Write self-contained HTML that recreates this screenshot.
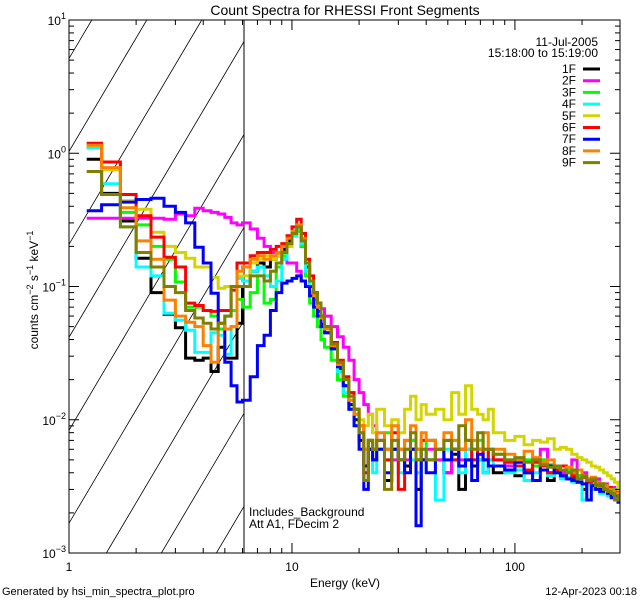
<!DOCTYPE html>
<html><head><meta charset="utf-8">
<style>
html,body{margin:0;padding:0;background:#fff;}
svg{display:block;font-family:"Liberation Sans",sans-serif;}
</style></head>
<body>
<svg id="chart" width="640" height="600" viewBox="0 0 640 600">
<defs><clipPath id="plotclip"><rect x="69" y="20" width="551" height="533"/></clipPath>
<clipPath id="hatchclip"><rect x="69" y="20" width="175" height="533"/></clipPath></defs>
<rect x="0" y="0" width="640" height="600" fill="#fff"/>
<text x="345" y="15" font-size="14" text-anchor="middle">Count Spectra for RHESSI Front Segments</text>
<g id="hatch" clip-path="url(#hatchclip)"></g>
<line x1="244" y1="20" x2="244" y2="553" stroke="#000" stroke-width="1"/>
<g id="series" clip-path="url(#plotclip)"></g>
<rect x="69" y="20" width="551" height="533" fill="none" stroke="#000" stroke-width="1"/>
<g id="axes"></g>
<text x="598" y="46" font-size="12" text-anchor="end">11-Jul-2005</text>
<text x="598" y="57" font-size="12" text-anchor="end">15:18:00 to 15:19:00</text>
<g id="legend"></g>
<text x="249" y="516" font-size="12">Includes_Background</text>
<text x="249" y="528" font-size="12">Att A1, FDecim 2</text>
<text x="345" y="587" font-size="12" text-anchor="middle">Energy (keV)</text>
<text transform="translate(38,290) rotate(-90)" font-size="12" text-anchor="middle">counts cm<tspan dy="-5" font-size="9">−2</tspan><tspan dy="5"> s</tspan><tspan dy="-5" font-size="9">−1</tspan><tspan dy="5"> keV</tspan><tspan dy="-5" font-size="9">−1</tspan></text>
<text x="2" y="595" font-size="11">Generated by hsi_min_spectra_plot.pro</text>
<text x="637" y="595" font-size="11" text-anchor="end">12-Apr-2023 00:18</text>
</svg>
<script>
const edges=[1.2,1.4,1.7,2.0,2.333,2.667,3,3.333,3.667,4,4.333,4.667,5,5.333,5.667,6,
6.5,7,7.5,8,8.5,9,9.5,10,10.5,11,11.5,12,12.5,13,13.5,14,
15,16,17,18,19,20,21,22,23,24,
26,28,30,32,34,36,38,40,
44,48,52,56,60,64,68,72,76,80,
90,100,110,120,130,140,150,160,170,180,190,200,210,220,230,240,250,260,270,280,290,300];
const labels=["1F","2F","3F","4F","5F","6F","7F","8F","9F"];
const colors=["#000000","#ff00ff","#00ff00","#00ffff","#d4d400","#ff0000","#0000ff","#ff8000","#808000"];
const s1F=[.90,.50,.31,.163,.090,.062,.049,.029,.028,.029,.023,.035,.029,.029,.053,
.10,.13,.15,.14,.16,.17,.19,.22,.25,.27,.20,.14,.10,.08,.065,.052,
.045,.034,.024,.018,.013,.01,.007,.0045,.006,.005,
.006,.0035,.006,.005,.0045,.006,.003,.005,
.005,.006,.004,.0055,.003,.005,.0045,.005,.004,.0045,
.004,.0045,.0038,.004,.0045,.0042,.0035,.004,.0038,.0036,.0037,.0035,.003,.0034,.0032,.0034,.003,.0031,.0028,.003,.0029,.0026];
const s2F=[.325,.325,.325,.325,.325,.32,.35,.34,.386,.37,.36,.35,.33,.30,.29,
.30,.27,.23,.20,.18,.17,.16,.15,.15,.13,.11,.10,.09,.08,.075,.068,
.06,.05,.042,.035,.028,.02,.016,.013,.011,.009,
.007,.006,.005,.006,.005,.007,.006,.005,
.006,.005,.004,.006,.005,.006,.005,.006,.005,.005,
.005,.0045,.005,.004,.0045,.006,.004,.0045,.004,.0042,.005,.0038,.004,.0035,.0034,.0036,.0032,.0033,.003,.0031,.003,.0028];
const s3F=[1.1,.77,.36,.29,.20,.16,.108,.07,.07,.066,.06,.048,.06,.066,.08,
.07,.09,.12,.075,.08,.14,.17,.20,.24,.26,.2,.12,.075,.06,.05,.04,
.035,.028,.02,.015,.012,.011,.008,.006,.007,.006,
.006,.008,.006,.005,.006,.007,.005,.006,
.007,.006,.005,.007,.006,.006,.006,.007,.006,.005,
.0055,.005,.0048,.005,.0045,.005,.0046,.0044,.0042,.0042,.004,.0038,.0037,.0036,.0034,.0034,.0033,.0032,.003,.003,.0028,.0025];
const s4F=[1.1,.59,.28,.14,.12,.063,.056,.047,.032,.032,.045,.043,.031,.05,.115,
.11,.13,.14,.12,.10,.11,.16,.2,.24,.27,.21,.13,.09,.075,.06,.05,
.045,.034,.023,.016,.012,.009,.008,.006,.007,.004,
.006,.005,.007,.004,.006,.005,.004,.006,
.005,.0025,.006,.005,.004,.006,.005,.005,.004,.005,
.0045,.004,.0042,.0035,.004,.0042,.0038,.004,.0036,.0037,.0034,.0035,.0025,.0033,.003,.0032,.0028,.003,.0027,.0028,.0026,.0025];
const s5F=[1.15,.75,.44,.38,.255,.20,.18,.163,.14,.14,.117,.097,.10,.10,.12,
.12,.15,.16,.17,.16,.17,.18,.2,.25,.28,.22,.15,.11,.085,.07,.06,
.05,.036,.027,.02,.016,.012,.01,.009,.011,.008,
.012,.009,.01,.008,.012,.015,.01,.013,
.011,.012,.01,.016,.011,.018,.012,.011,.01,.012,
.008,.007,.0075,.0065,.007,.0068,.0072,.006,.0062,.006,.0055,.0052,.005,.0048,.0045,.0044,.0042,.004,.0038,.0036,.0034,.003];
const s6F=[1.19,.86,.49,.34,.235,.166,.14,.075,.072,.066,.065,.066,.066,.094,.15,
.15,.17,.18,.18,.19,.2,.21,.24,.28,.32,.25,.16,.12,.09,.075,.06,
.05,.038,.028,.021,.016,.012,.009,.004,.007,.006,
.007,.005,.008,.003,.007,.006,.005,.007,
.007,.006,.007,.005,.006,.007,.005,.006,.005,.006,
.005,.0048,.0045,.0042,.0048,.0045,.004,.0042,.0045,.004,.0038,.0036,.0037,.0034,.0035,.0033,.0032,.003,.0031,.0029,.0027,.0026];
const s7F=[.37,.41,.43,.45,.46,.40,.36,.30,.197,.15,.089,.053,.027,.018,.0136,
.014,.021,.036,.043,.066,.09,.106,.11,.115,.12,.11,.1,.085,.07,.06,.05,
.045,.034,.025,.018,.012,.009,.006,.003,.006,.005,
.006,.004,.006,.005,.004,.006,.0016,.005,
.004,.006,.005,.006,.0045,.005,.0035,.0055,.005,.0045,
.0045,.0042,.0048,.004,.0035,.0042,.0045,.004,.0038,.0036,.0035,.0034,.0033,.0025,.0032,.003,.0029,.003,.0028,.0026,.0027,.0024];
const s8F=[1.15,.78,.39,.22,.16,.079,.06,.054,.05,.036,.027,.053,.048,.05,.13,
.14,.16,.17,.16,.17,.18,.2,.23,.26,.29,.23,.15,.11,.085,.07,.058,
.048,.036,.026,.02,.014,.011,.009,.006,.007,.006,
.008,.006,.009,.006,.007,.009,.006,.008,
.007,.006,.008,.007,.006,.01,.007,.006,.008,.006,
.006,.0055,.005,.0058,.0052,.0048,.005,.0045,.0042,.0044,.004,.0042,.0038,.0036,.0037,.0034,.0033,.0032,.003,.0029,.0028,.0026];
const s9F=[.73,.49,.28,.18,.14,.10,.09,.066,.058,.053,.048,.053,.06,.10,.10,
.10,.12,.12,.11,.13,.15,.18,.21,.25,.28,.22,.15,.11,.09,.075,.06,
.05,.037,.027,.02,.015,.012,.008,.0035,.007,.006,
.007,.003,.007,.005,.006,.008,.005,.006,
.005,.006,.007,.006,.009,.007,.006,.008,.006,.006,
.0055,.005,.0052,.0048,.005,.0046,.0044,.0045,.0042,.004,.0042,.0036,.0038,.0035,.0036,.0032,.0033,.003,.0029,.0028,.0025,.0027];
const seriesData=[s1F,s2F,s3F,s4F,s5F,s6F,s7F,s8F,s9F];
const xTickMajor=[1,10,100];
const yTickExp=[-3,-2,-1,0,1];

const NS="http://www.w3.org/2000/svg";
const L=69,R=620,T=20,B=553;
const xmin=Math.log10(1),xmax=Math.log10(296),ymin=-3,ymax=1;
function X(e){return L+(Math.log10(e)-xmin)/(xmax-xmin)*(R-L);}
function Y(v){return B-(Math.log10(v)-ymin)/(ymax-ymin)*(B-T);}
function mk(tag,attrs,parent){const el=document.createElementNS(NS,tag);for(const k in attrs)el.setAttribute(k,attrs[k]);parent.appendChild(el);return el;}

// hatch
const hatch=document.getElementById('hatch');
for(let k=-6;k<8;k++){
  const x0=136+k*55,y0=410;
  const slope=1.69;
  const el=mk('line',{x1:x0-(B-y0)/slope,y1:B,x2:x0+(y0-T)/slope,y2:T,stroke:'#000','stroke-width':0.8},hatch);
  
  
}

// series
const sg=document.getElementById('series');
seriesData.forEach((vals,si)=>{
  let d='';
  for(let i=0;i<vals.length;i++){
    const x1=X(edges[i]).toFixed(1),x2=X(edges[i+1]).toFixed(1),y=Y(vals[i]).toFixed(1);
    d+=(i===0?'M':'L')+x1+','+y+'L'+x2+','+y;
  }
  const p=mk('path',{d:d,fill:'none',stroke:colors[si],'stroke-width':3,'stroke-linejoin':'miter'},sg);
  
  
});

// axes
const ax=document.getElementById('axes');
for(let dec=0;dec<3;dec++){
  for(let m=1;m<10;m++){
    const e=m*Math.pow(10,dec);
    if(e>296)continue;
    const x=X(e),len=(m===1?10:5);
    let t=mk('line',{x1:x,y1:B,x2:x,y2:B-len,stroke:'#000','stroke-width':1},ax);
    
    
    t=mk('line',{x1:x,y1:T,x2:x,y2:T+len,stroke:'#000','stroke-width':1},ax);
    
    
  }
}
xTickMajor.forEach(e=>{
  const t=mk('text',{x:X(e),y:571,'font-size':12,'text-anchor':'middle'},ax);
  t.textContent=String(e);
  
  
});
yTickExp.forEach(p=>{
  for(let m=1;m<10;m++){
    if(p===1&&m>1)break;
    const y=Y(m*Math.pow(10,p)),len=(m===1?10:5);
    let t=mk('line',{x1:L,y1:y,x2:L+len,y2:y,stroke:'#000','stroke-width':1},ax);
    
    
    t=mk('line',{x1:R,y1:y,x2:R-len,y2:y,stroke:'#000','stroke-width':1},ax);
    
    
  }
  const y=Y(Math.pow(10,p));
  const t=mk('text',{x:66,y:y+5,'font-size':12,'text-anchor':'end'},ax);
  
  
  const a=document.createElementNS(NS,'tspan');a.textContent='10';t.appendChild(a);
  const b=document.createElementNS(NS,'tspan');b.setAttribute('dy','-6');b.setAttribute('font-size','9');b.textContent=(p<0?'−':'')+Math.abs(p);t.appendChild(b);
});

// legend
const lg=document.getElementById('legend');
labels.forEach((lab,i)=>{
  const y=69+i*11.7;
  const t=mk('text',{x:576,y:y+4,'font-size':12,'text-anchor':'end'},lg);
  t.textContent=lab;
  
  
  const l=mk('line',{x1:583,y1:y,x2:600,y2:y,stroke:colors[i],'stroke-width':3},lg);
  
  
});
</script>
</body></html>
